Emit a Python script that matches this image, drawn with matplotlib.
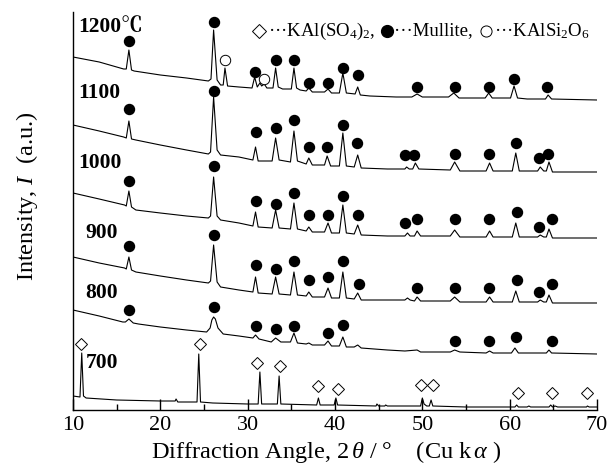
import numpy as np
import matplotlib
matplotlib.use("Agg")
import matplotlib.pyplot as plt

plt.rcParams['font.family'] = ['Liberation Serif', 'DejaVu Serif']
plt.rcParams['mathtext.fontset'] = 'custom'
plt.rcParams['mathtext.rm'] = 'Liberation Serif'
plt.rcParams['mathtext.it'] = 'Liberation Serif:italic'
plt.rcParams['mathtext.bf'] = 'Liberation Serif:bold'

# XRD traces, (2theta, stacked intensity a.u.)
p1200 = [(10, 353), (13, 348), (15.8, 341), (16.1, 341), (16.4, 360), (16.7, 340), (17, 339),
         (20, 335), (23, 332), (25.5, 329), (25.8, 331), (26.1, 380), (26.5, 330), (26.9, 325),
         (27.2, 325), (27.4, 342), (27.7, 324), (29, 323), (30.5, 322), (30.8, 333), (31.1, 323),
         (31.4, 327), (31.6, 324), (31.9, 326), (32.2, 322), (32.9, 322), (33.2, 342), (33.5, 323),
         (34, 321), (35.0, 321), (35.3, 342), (35.6, 322), (36, 320), (36.7, 319), (37.0, 322),
         (37.4, 318), (38.8, 318), (39.2, 321), (39.6, 317), (40.5, 317), (40.9, 337), (41.3, 317),
         (42.3, 316), (42.6, 323), (42.9, 315), (44, 314), (47, 313), (48.8, 313), (49.4, 316),
         (50, 313), (53, 313), (53.6, 317), (54.2, 312), (57.2, 312), (57.6, 317), (58, 312),
         (60.1, 312), (60.5, 324), (60.9, 312), (62, 311), (64.1, 311), (64.4, 315), (64.8, 311),
         (70, 310)]
p1100 = [(10, 285), (13, 279), (15.8, 273), (16.1, 272), (16.4, 289), (16.7, 271), (17.2, 270),
         (20, 265), (23, 260), (25.5, 256), (25.75, 258), (26.1, 313), (26.5, 260), (26.9, 255),
         (29, 253), (30.6, 250), (30.9, 263), (31.2, 249), (32.8, 249), (33.2, 272), (33.6, 250),
         (34.9, 248), (35.3, 279), (35.7, 249), (36.7, 246), (37.0, 252), (37.4, 245), (38.8, 245),
         (39.1, 254), (39.5, 244), (40.5, 244), (40.9, 277), (41.3, 244), (42.2, 243), (42.6, 255),
         (43, 242), (46, 241), (48.0, 241), (48.2, 243), (48.5, 241), (48.9, 241), (49.2, 247),
         (49.6, 241), (53.2, 240), (53.7, 248), (54.3, 239), (57.3, 239), (57.7, 247), (58.1, 239),
         (60.3, 239), (60.7, 257), (61.1, 239), (63.2, 239), (63.5, 243), (63.9, 239), (64.2, 239),
         (64.5, 248), (64.9, 238), (70, 238)]
p1000 = [(10, 217), (13, 211), (15.9, 205), (16.1, 204), (16.4, 219), (16.7, 203), (17.2, 200),
         (20, 197), (23, 194), (25.5, 192), (25.75, 194), (26.1, 233), (26.5, 194), (26.9, 190),
         (29, 187), (30.6, 184), (30.9, 198), (31.2, 183), (32.8, 182), (33.2, 200), (33.6, 182),
         (34.9, 181), (35.3, 207), (35.7, 181), (36.7, 179), (37.0, 183), (37.4, 178), (38.8, 178),
         (39.2, 187), (39.6, 177), (40.5, 177), (40.9, 205), (41.3, 177), (42.2, 176), (42.6, 185),
         (43, 175), (46, 174), (48.0, 174), (48.3, 177), (48.6, 174), (49.1, 174), (49.4, 179),
         (49.8, 174), (53.2, 174), (53.7, 180), (54.3, 173), (57.3, 173), (57.7, 179), (58.1, 173),
         (60.3, 173), (60.7, 187), (61.1, 173), (63.2, 173), (63.5, 175), (63.9, 173), (64.2, 173),
         (64.5, 181), (64.9, 172), (70, 172)]
p900 = [(10, 153), (13, 147), (15.9, 142), (16.1, 141), (16.4, 153), (16.7, 140), (17.2, 138),
        (20, 134), (23, 130), (25.5, 127), (25.75, 129), (26.1, 165), (26.5, 128), (26.9, 123),
        (29, 120), (30.6, 118), (30.9, 133), (31.2, 117), (32.8, 116), (33.2, 133), (33.6, 116),
        (34.9, 115), (35.3, 138), (35.7, 115), (36.7, 114), (37.0, 118), (37.4, 113), (38.8, 113),
        (39.2, 122), (39.6, 112), (40.5, 112), (40.9, 138), (41.3, 112), (42.2, 111), (42.6, 117),
        (43, 110), (46, 110), (48.0, 110), (48.3, 112), (48.6, 110), (49.1, 109), (49.4, 113),
        (49.8, 109), (53.2, 109), (53.7, 113), (54.3, 108), (57.3, 108), (57.7, 113), (58.1, 108),
        (60.3, 108), (60.7, 119), (61.1, 108), (63.2, 108), (63.5, 110), (63.9, 108), (64.2, 108),
        (64.5, 115), (64.9, 107), (70, 107)]
p800 = [(10, 100), (13, 94), (15.7, 88), (16.0, 88), (16.4, 91), (16.9, 87), (17.5, 86),
        (20, 83), (23, 80), (25.3, 78), (25.7, 82), (25.9, 90), (26.1, 93), (26.3, 91), (26.6, 82),
        (27.2, 76), (29, 74), (30.6, 72), (30.9, 75), (31.3, 71), (32.7, 68), (33.2, 72),
        (33.8, 68), (34.9, 68), (35.3, 77), (35.7, 67), (36.7, 66), (37.0, 67), (37.4, 65),
        (38.8, 65), (39.2, 69), (39.6, 64), (40.5, 64), (40.9, 73), (41.3, 63), (42.2, 63),
        (42.6, 65), (43, 62), (46, 60), (48.0, 59), (49.4, 60), (49.8, 58), (53.2, 58), (53.7, 60),
        (54.3, 58), (57.3, 57), (57.7, 59), (58.1, 57), (60.2, 57), (60.6, 62), (61.0, 57),
        (64.2, 57), (64.5, 60), (64.8, 57), (70, 56)]
p700 = [(10, 14), (10.8, 13), (11.0, 57), (11.2, 14), (11.5, 12), (15, 10), (20, 9), (21.7, 9),
        (21.8, 11), (22, 8), (24.2, 8), (24.4, 56), (24.6, 8), (26, 7), (30, 6), (31.2, 6),
        (31.4, 38), (31.6, 6), (33.4, 6), (33.6, 34), (33.8, 6), (37.9, 5), (38.1, 12), (38.3, 5),
        (39.9, 5), (40.1, 12), (40.3, 5), (44.7, 4), (44.8, 6), (45.0, 4), (45.7, 4), (45.8, 5),
        (46, 4), (49.8, 4), (50.0, 12), (50.2, 6), (50.5, 4), (50.8, 4), (51.0, 10), (51.2, 4),
        (55, 3), (60.6, 3), (60.8, 5), (61.0, 3), (62, 3), (62.2, 4), (62.4, 3), (64.5, 3),
        (64.7, 5), (64.9, 3), (65.2, 4), (65.5, 3), (68.8, 3), (68.9, 4), (69.1, 3), (70, 3)]
traces = [p1200, p1100, p1000, p900, p800, p700]

# phase markers
mullite = [(16.4, 369), (26.1, 388), (30.8, 338), (33.2, 350), (35.3, 350), (37.0, 327),
           (39.2, 327), (40.9, 342), (42.6, 335), (49.4, 323), (53.7, 323), (57.6, 323),
           (60.5, 331), (64.3, 323),
           (16.4, 301), (26.1, 319), (30.9, 278), (33.2, 282), (35.3, 290), (37.0, 263),
           (39.1, 263), (40.9, 285), (42.5, 267), (48.0, 255), (49.0, 255), (53.7, 256),
           (57.6, 256), (60.7, 267), (63.4, 252), (64.4, 256),
           (16.4, 229), (26.1, 244), (30.9, 209), (33.2, 206), (35.3, 217), (37.0, 195),
           (39.2, 195), (40.9, 214), (42.6, 195), (48.0, 187), (49.4, 191), (53.7, 191),
           (57.6, 191), (60.8, 198), (63.4, 183), (64.8, 191),
           (16.4, 164), (26.1, 175), (30.9, 145), (33.2, 141), (35.3, 149), (37.0, 130),
           (39.2, 133), (40.9, 149), (42.7, 126), (49.4, 122), (53.7, 122), (57.6, 122),
           (60.8, 130), (63.4, 118), (64.8, 126),
           (16.4, 100), (26.1, 103), (30.9, 84), (33.2, 81), (35.3, 84), (39.2, 77), (40.9, 85),
           (53.7, 69), (57.6, 69), (60.7, 73), (64.8, 69)]
kalso4 = [(10.9, 66), (24.5, 66), (31.1, 47), (33.7, 44), (38.1, 24), (40.3, 21), (49.8, 25),
          (51.2, 25), (60.9, 17), (64.8, 17), (68.8, 17)]
kalsi2o6 = [(27.4, 350), (31.9, 331)]

labels = ['1200℃', '1100', '1000', '900', '800', '700']
label_pos = [(10.6, 383), (10.6, 317), (10.6, 247), (11.4, 177), (11.4, 117), (11.5, 47)]

fig = plt.figure(figsize=(6.13, 4.69), dpi=100)
ax = fig.add_axes([73 / 613, 59 / 469, 524 / 613, 398 / 469])

for tr in traces:
    x, y = zip(*tr)
    ax.plot(x, y, color='black', lw=0.8)

mx, my = zip(*mullite)
ax.plot(mx, my, 'o', color='black', ms=7.2, ls='none', clip_on=False)
kx, ky = zip(*kalso4)
ax.plot(kx, ky, 'D', mfc='white', mec='black', mew=0.7, ms=6.0, ls='none', clip_on=False)
cx, cy = zip(*kalsi2o6)
ax.plot(cx, cy, 'o', mfc='white', mec='black', mew=0.7, ms=7.5, ls='none', clip_on=False)

for lab, (lx, ly) in zip(labels, label_pos):
    ax.text(lx, ly, lab, fontsize=15.5, fontweight='bold', va='center', ha='left',
            family=['Liberation Serif', 'Noto Serif CJK JP', 'Noto Sans CJK JP', 'DejaVu Sans'])

ax.set_xlim(10, 70)
ax.set_ylim(0, 398)
ax.set_xticks(range(10, 71, 10))
ax.set_xticks(range(15, 70, 10), minor=True)
ax.set_yticks([])
ax.tick_params(axis='x', which='major', direction='in', length=8, width=1.0, labelsize=16, pad=4)
ax.tick_params(axis='x', which='minor', direction='in', length=4.5, width=1.0)
for s in ['top', 'right']:
    ax.spines[s].set_visible(False)
for s in ['left', 'bottom']:
    ax.spines[s].set_linewidth(1.0)

# legend line at the top
fy = 1 - 31 / 469
ax.plot([259 / 613], [fy], 'D', mfc='white', mec='black', mew=0.7, ms=6.8,
        transform=fig.transFigure, clip_on=False)
ax.plot([387 / 613], [fy], 'o', color='black', ms=8.5, transform=fig.transFigure, clip_on=False)
ax.plot([486 / 613], [fy], 'o', mfc='white', mec='black', mew=0.7, ms=8.0,
        transform=fig.transFigure, clip_on=False)
fig.text(268 / 613, fy, '···KAl(SO$_4$)$_2$,', fontsize=13.5, va='center', ha='left')
fig.text(394 / 613, fy, '···Mullite,', fontsize=13.5, va='center', ha='left')
fig.text(494 / 613, fy, '···KAlSi$_2$O$_6$', fontsize=13.5, va='center', ha='left')

fig.text(326 / 613, 1 - 452 / 469,
         r'Diffraction Angle, 2$\,\mathit{\theta}$ / °    (Cu k$\,\mathit{\alpha}$ )',
         fontsize=17.5, ha='center', va='center')
fig.text(27 / 613, 1 - 196 / 469, r'Intensity, $\mathit{I}$  (a.u.)', fontsize=17.5,
         rotation=90, ha='center', va='center')

fig.savefig('out.png', dpi=100)
